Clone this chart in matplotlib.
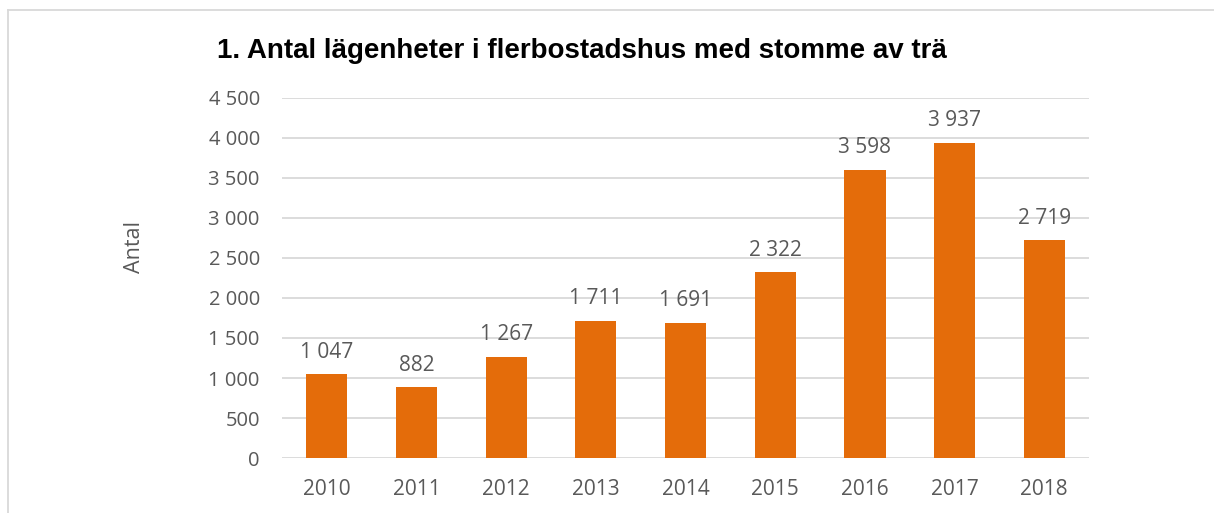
import matplotlib.pyplot as plt
from matplotlib.lines import Line2D

years = ['2010', '2011', '2012', '2013', '2014', '2015', '2016', '2017', '2018']
values = [1047, 882, 1267, 1711, 1691, 2322, 3598, 3937, 2719]
yticks = [0, 500, 1000, 1500, 2000, 2500, 3000, 3500, 4000, 4500]

gray = '#595959'
orange = '#E46C0A'


def fmt(v):
    return f'{v:,}'.replace(',', ' ')


fig = plt.figure(figsize=(12.14, 5.13), dpi=100)
ax = fig.add_axes([0.2323, 0.1072, 0.6648, 0.7018])

x = range(len(years))
ax.bar(x, values, width=0.46, color=orange, zorder=3)
for i, v in zip(x, values):
    ax.annotate(fmt(v), (i, v), xytext=(0, 12), textcoords='offset points',
                ha='center', va='baseline', fontsize=15, color=gray,
                family='Open Sans')

ax.set_xlim(-0.5, len(years) - 0.5)
ax.set_ylim(0, 4500)
ax.set_yticks(yticks)
ax.set_yticklabels([fmt(t) for t in yticks], family='Open Sans', fontsize=14.5, color=gray)
ax.set_xticks(list(x))
ax.set_xticklabels(years, family='Open Sans', fontsize=15, color=gray)
ax.tick_params(length=0, pad=16, axis='y')
ax.tick_params(length=0, pad=15, axis='x')
ax.grid(axis='y', color='#D9D9D9', linewidth=1.3, zorder=0)
for s in ax.spines.values():
    s.set_visible(False)

fig.text(134 / 1214, 1 - 247 / 513, 'Antal', rotation=90, ha='center', va='center',
         family='Open Sans', fontsize=15.5, color=gray)

fig.text(0.479, 1 - 58 / 513, '1. Antal lägenheter i flerbostadshus med stomme av trä',
         ha='center', va='baseline', fontsize=20, fontweight='bold',
         family='Liberation Sans', color='black')

# chart frame (only top and left edges are visible in the crop)
fig.add_artist(Line2D([8 / 1214, 1], [1 - 10 / 513, 1 - 10 / 513],
                      transform=fig.transFigure, color='#D9D9D9', linewidth=1.3))
fig.add_artist(Line2D([8 / 1214, 8 / 1214], [0, 1 - 10 / 513],
                      transform=fig.transFigure, color='#D9D9D9', linewidth=1.3))

fig.savefig('out.png', dpi=100)
